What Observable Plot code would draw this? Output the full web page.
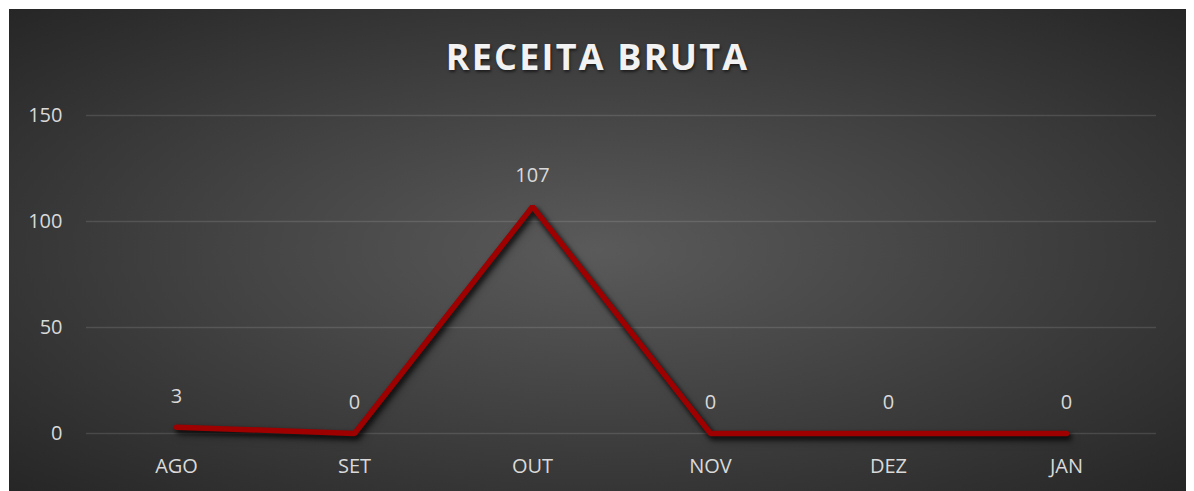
<!DOCTYPE html>
<html>
<head>
<meta charset="utf-8">
<script src="https://cdn.jsdelivr.net/npm/d3@7"></script>
<script src="https://cdn.jsdelivr.net/npm/@observablehq/plot@0.6"></script>
<style>
  html, body { margin: 0; padding: 0; background: #ffffff; }
  #card {
    position: absolute; left: 9px; top: 9px; width: 1177px; height: 482px;
    overflow: hidden;
    background: radial-gradient(ellipse farthest-corner at 50% 50%, #5a5a5a 0%, #434343 45%, #262626 100%);
    font-family: "Open Sans", sans-serif;
  }
  #title {
    position: absolute; left: 0; right: 0; top: 30px; text-align: center;
    font-size: 36px; line-height: 1; font-weight: 700; letter-spacing: 2.2px;
    color: #f2f2f2; text-shadow: 1px 2px 3px rgba(0,0,0,0.55);
  }
  #chart { position: absolute; left: 0; top: 0; }
</style>
</head>
<body>
<div id="card">
  <div id="chart"></div>
  <div id="title">RECEITA BRUTA</div>
</div>
<script>
const months = ["AGO", "SET", "OUT", "NOV", "DEZ", "JAN"];
const values = [3, 0, 107, 0, 0, 0];
const yTicks = [0, 50, 100, 150];

const data = months.map((m, i) => ({month: m, value: values[i]}));

const chart = Plot.plot({
  width: 1177,
  height: 482,
  marginTop: 106,
  marginBottom: 58,
  marginLeft: 77,
  marginRight: 30,
  style: {background: "transparent", fontFamily: "Open Sans, sans-serif", fontSize: "20px", color: "#d9d9d9", overflow: "visible"},
  x: {type: "point", domain: months, padding: 0.5, label: null},
  y: {domain: [0, 150], label: null},
  marks: [
    Plot.gridY(yTicks, {stroke: "#ffffff", strokeOpacity: 0.12, strokeWidth: 1.3}),
    Plot.axisY(yTicks, {tickSize: 0, tickPadding: 24, fill: "#d9d9d9", fontSize: 20, label: null}),
    Plot.axisX({tickSize: 0, tickPadding: 25, fill: "#d9d9d9", fontSize: 20, label: null}),
    Plot.line(data, {x: "month", y: "value", stroke: "#9e0000", strokeWidth: 5.5, strokeLinecap: "round", strokeLinejoin: "miter", className: "mainline"}),
    Plot.text(data, {x: "month", y: "value", text: d => String(d.value), dy: -31, lineAnchor: "middle", fill: "#d9d9d9", fontSize: 20})
  ]
});
chart.querySelectorAll(".mainline path, path.mainline, g.mainline path").forEach(p => {
  p.style.filter = "drop-shadow(2px 3px 2.5px rgba(0,0,0,0.55))";
});
const g = chart.querySelector("g[aria-label='line']");
if (g) g.style.filter = "drop-shadow(2px 3px 2.5px rgba(0,0,0,0.55))";
document.getElementById("chart").appendChild(chart);
</script>
</body>
</html>
